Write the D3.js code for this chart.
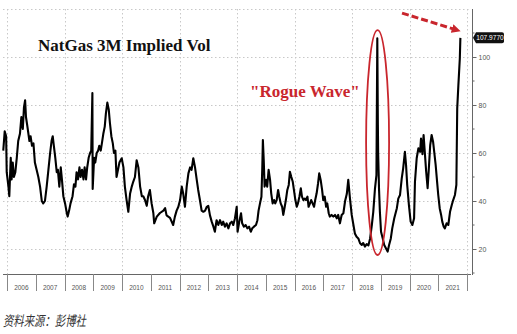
<!DOCTYPE html>
<html><head><meta charset="utf-8">
<script src="https://cdn.jsdelivr.net/npm/d3@7"></script>
<style>html,body{margin:0;padding:0;background:#fff;}svg{display:block;}</style>
</head><body>
<svg id="chart" width="517" height="334"></svg>
<script>
const years = [2005.87,2005.92,2005.97,2005.99,2006.05,2006.08,2006.13,2006.16,2006.20,2006.24,2006.29,2006.34,2006.39,2006.45,2006.50,2006.55,2006.59,2006.63,2006.66,2006.71,2006.78,2006.82,2006.87,2006.92,2006.97,2007.03,2007.09,2007.15,2007.21,2007.26,2007.32,2007.38,2007.44,2007.50,2007.55,2007.59,2007.63,2007.68,2007.73,2007.77,2007.82,2007.87,2007.91,2007.96,2008.02,2008.08,2008.11,2008.16,2008.21,2008.28,2008.33,2008.38,2008.42,2008.47,2008.52,2008.56,2008.61,2008.66,2008.70,2008.75,2008.79,2008.84,2008.89,2008.93,2008.97,2008.98,
2009.03,2009.07,2009.12,2009.17,2009.21,2009.26,2009.30,2009.35,2009.40,2009.44,2009.49,2009.54,2009.58,2009.63,2009.68,2009.72,2009.77,2009.81,2009.86,2009.91,2009.99,2010.05,2010.10,2010.16,2010.22,2010.28,2010.34,2010.39,2010.45,2010.51,2010.57,2010.63,2010.69,2010.74,2010.80,2010.86,2010.91,2010.97,2011.03,2011.09,2011.12,2011.21,2011.32,2011.44,2011.50,2011.55,2011.67,2011.78,2011.84,2011.90,2011.96,
2012.02,2012.08,2012.13,2012.19,2012.25,2012.31,2012.37,2012.42,2012.48,2012.54,2012.60,2012.65,2012.71,2012.77,2012.83,2012.89,2012.95,2013.00,2013.06,2013.12,2013.18,2013.23,2013.29,2013.35,2013.41,2013.47,2013.52,2013.58,2013.64,2013.70,2013.76,2013.82,2013.87,2013.93,2013.99,2014.02,2014.08,2014.14,2014.18,2014.24,2014.30,2014.36,2014.42,2014.48,2014.53,2014.59,2014.66,2014.71,2014.75,2014.80,2014.85,2014.88,2014.90,2014.93,2014.96,
2015.01,2015.05,2015.10,2015.15,2015.19,2015.24,2015.29,2015.33,2015.38,2015.43,2015.47,2015.52,2015.57,2015.61,2015.66,2015.70,2015.75,2015.80,2015.84,2015.89,2015.94,2015.98,2016.03,2016.08,2016.12,2016.17,2016.22,2016.26,2016.31,2016.36,2016.40,2016.45,2016.49,2016.54,2016.58,2016.63,2016.68,2016.72,2016.77,2016.82,2016.86,2016.91,2016.96,2017.00,2017.05,2017.10,2017.14,2017.19,2017.23,2017.29,2017.35,2017.41,2017.47,2017.52,2017.58,2017.64,2017.70,2017.76,2017.82,2017.87,2017.93,2017.99,
2018.05,2018.10,2018.16,2018.22,2018.28,2018.34,2018.39,2018.45,2018.51,2018.57,2018.63,2018.69,2018.74,2018.80,2018.85,2018.88,2018.90,2018.91,2018.94,2018.97,2019.01,2019.07,2019.12,2019.18,2019.24,2019.29,2019.35,2019.40,2019.47,2019.56,2019.61,2019.67,2019.73,2019.78,2019.84,2019.88,2019.92,2019.98,
2020.04,2020.10,2020.16,2020.19,2020.25,2020.31,2020.37,2020.40,2020.45,2020.49,2020.54,2020.58,2020.63,2020.68,2020.72,2020.77,2020.82,2020.86,2020.91,2020.96,2021.00,2021.05,2021.10,2021.14,2021.19,2021.23,2021.29,2021.35,2021.41,2021.47,2021.52,2021.58,2021.63,2021.66,2021.70,2021.75,2021.77];

const vols = [61,69,67,52,46,42,58,49,56,50,52,58,65,68,75,70,79,82,75,71,65,67,63,64,56,53,50,46,40,39,40,46,53,60,65,67,63,58,52,53,46,54,49,42,39,35,33.5,36,39,42,47,46,52,49,54,50,53,49,54,49,54,58,60,61,85,45,
58,56,60,61,63,61,64,68,71,76.5,81,78,72.5,67,64,60,61,50,53,56,57.8,54,46,40.4,35.5,43,46,48,50,57,54,46,42,42,40.4,38,42,44.6,39,35,30.7,33.5,35,36,37,34,33,30,33.5,36,37.6,
40.4,46,43,37.6,46,51.5,54,53,57.8,54,48.8,44.6,40.4,36,35.5,36,37.6,38,34,31.4,29.3,27.2,32,30,32,30,31.4,29.3,30.7,28.6,30.7,31.4,30,32.8,37.6,27.2,31.4,34.9,30.7,29.3,30,28.6,29.3,27.2,28.6,29.3,30,32,36,39,41.8,54,65.4,57,46,
48.8,46,53,48.8,43.2,39,40.4,39,40.4,44.6,41.8,39,37.6,34.2,37.6,40.4,44.6,46.7,52.2,50,48,44.6,40.4,37.6,39,41.8,45.3,41.8,40.4,41,40.4,41.8,37.6,39,40.4,39,37.6,40.4,43.2,47.4,51.5,48.8,44.6,40.4,41.8,37.6,39,34.9,33.5,34.2,33.5,34.2,32.8,34.2,30.7,34.2,34.9,40,43,48.8,41,34.2,
30,26.5,25.1,24.4,22.4,21.7,22.5,21,22,21.5,24.4,30,35.5,45.3,50.8,107.8,71.7,60,45,35.5,27.2,24.4,21.7,20.3,18.9,21.7,24.4,28.6,32.8,37,41,42.5,49.4,53.6,60.5,55,46.7,38.3,
31.4,30,32.8,48,57.8,62,60.5,66,59.5,67.5,59,52.2,45.3,55,63.3,67.5,64.7,60.5,55,48,42.5,37,34.2,31.4,29.3,28.6,30.7,30,35.5,38.3,40.4,42.5,46.7,78.6,88.3,99.4,107.977];

const yearLabels = [2006,2007,2008,2009,2010,2011,2012,2013,2014,2015,2016,2017,2018,2019,2020,2021];
const gridYears = [2006,2008,2010,2012,2014,2016,2018,2020,2022];
const yMajorTicks = [20,40,60,80,100];
const yMinorTicks = [10,30,50,70,90,110];
const yGrid = [20,40,60,80,100,120];
const titleText = "NatGas 3M Implied Vol";
const annotationText = "\"Rogue Wave\"";
const lastValueLabel = "107.9770";
const sourceText = "资料来源：彭博社";
const rogueWave = {start: 2018.49, end: 2019.29, low: 17.5, high: 111.2};
const arrowFrom = {year: 2019.74, vol: 118.3};
const arrowTo = {year: 2021.66, vol: 111.2};

const svg = d3.select("#chart");
const x = d3.scaleLinear().domain([2006, 2022]).range([7, 467]);
const y = d3.scaleLinear().domain([10, 120]).range([273, 9]);
const plotLeft = 3, plotRight = 472, plotTop = 9, plotBottom = 274;
const red = "#c9262d";

// grid
svg.append("g").selectAll("line").data(yGrid).join("line")
  .attr("x1", plotLeft).attr("x2", plotRight - 2)
  .attr("y1", d => Math.round(y(d)) + 0.5).attr("y2", d => Math.round(y(d)) + 0.5)
  .attr("stroke", "#c8c8c8").attr("stroke-width", 1).attr("stroke-dasharray", "1.5,2.5");
svg.append("g").selectAll("line").data(gridYears).join("line")
  .attr("x1", d => Math.round(x(d)) + 0.5).attr("x2", d => Math.round(x(d)) + 0.5)
  .attr("y1", plotTop).attr("y2", plotBottom)
  .attr("stroke", "#c8c8c8").attr("stroke-width", 1).attr("stroke-dasharray", "1.5,2.5");

// bottom axis
svg.append("line").attr("x1", plotLeft).attr("x2", plotRight - 1)
  .attr("y1", plotBottom + 0.5).attr("y2", plotBottom + 0.5).attr("stroke", "#666");
svg.append("g").selectAll("line").data(yearLabels.concat([2022])).join("line")
  .attr("x1", d => Math.round(x(d)) + 0.5).attr("x2", d => Math.round(x(d)) + 0.5)
  .attr("y1", plotBottom).attr("y2", plotBottom + 17)
  .attr("stroke", "#888");
svg.append("g").selectAll("text").data(yearLabels).join("text")
  .attr("x", d => x(d + 0.5)).attr("y", 290)
  .attr("text-anchor", "middle")
  .attr("font-family", "Liberation Sans, Arial, sans-serif")
  .attr("font-size", 6.5).attr("fill", "#555")
  .text(d => d);

// right axis
const yAxis = d3.axisRight(y).tickValues(yMajorTicks).tickSize(4).tickPadding(2).tickFormat(d3.format("d"));
const ga = svg.append("g").attr("transform", `translate(${plotRight + 0.5},0)`).call(yAxis);
ga.select(".domain").attr("stroke", "#666").attr("d", `M0,${plotTop}V${plotBottom + 1}`);
ga.selectAll(".tick line").attr("stroke", "#666");
ga.selectAll(".tick text").attr("font-family", "Liberation Sans, Arial, sans-serif")
  .attr("font-size", 7).attr("fill", "#555");
svg.append("g").selectAll("line").data(yMinorTicks).join("line")
  .attr("x1", plotRight).attr("x2", plotRight + 2.5)
  .attr("y1", d => y(d)).attr("y2", d => y(d)).attr("stroke", "#666");

// line
const line = d3.line().x((d, i) => x(years[i])).y(d => y(d)).curve(d3.curveLinear);
svg.append("path").datum(vols).attr("d", line)
  .attr("fill", "none").attr("stroke", "#000").attr("stroke-width", 2.1)
  .attr("stroke-linejoin", "round");

// title
svg.append("text").attr("x", 38).attr("y", 51)
  .attr("font-family", "Liberation Serif, Times New Roman, serif")
  .attr("font-weight", "bold").attr("font-size", 17).attr("fill", "#111")
  .text(titleText);

// rogue wave annotation
svg.append("text").attr("x", 250).attr("y", 97)
  .attr("font-family", "Liberation Serif, Times New Roman, serif")
  .attr("font-weight", "bold").attr("font-size", 17).attr("fill", red)
  .text(annotationText);
const ex0 = x(rogueWave.start), ex1 = x(rogueWave.end), ey0 = y(rogueWave.high), ey1 = y(rogueWave.low);
svg.append("ellipse")
  .attr("cx", (ex0 + ex1) / 2).attr("cy", (ey0 + ey1) / 2)
  .attr("rx", (ex1 - ex0) / 2).attr("ry", (ey1 - ey0) / 2)
  .attr("fill", "none").attr("stroke", red).attr("stroke-width", 1.8);

// dashed arrow
const defs = svg.append("defs");
defs.append("marker").attr("id", "ah").attr("viewBox", "0 0 10 10")
  .attr("refX", 6).attr("refY", 5).attr("markerWidth", 3).attr("markerHeight", 3)
  .attr("orient", "auto").attr("markerUnits", "strokeWidth")
  .append("path").attr("d", "M0,0L10,5L0,10Z").attr("fill", red);
svg.append("line")
  .attr("x1", x(arrowFrom.year)).attr("y1", y(arrowFrom.vol))
  .attr("x2", x(arrowTo.year)).attr("y2", y(arrowTo.vol))
  .attr("stroke", red).attr("stroke-width", 3).attr("stroke-dasharray", "7,3")
  .attr("marker-end", "url(#ah)");

// last value label
const lv = vols[vols.length - 1];
const ly = y(lv);
const lg = svg.append("g").attr("transform", `translate(${plotRight + 1},${ly})`);
lg.append("path").attr("d", "M0,0L3,-5.5H29Q31,-5.5 31,-3.5V3.5Q31,5.5 29,5.5H3Z").attr("fill", "#111");
lg.append("text").attr("x", 17).attr("y", 2.4).attr("text-anchor", "middle")
  .attr("font-family", "Liberation Sans, Arial, sans-serif").attr("font-size", 6.6)
  .attr("fill", "#fff").text(lastValueLabel);

// source
svg.append("text").attr("x", 3).attr("y", 326)
  .attr("font-family", "Noto Sans CJK SC, sans-serif").attr("font-style", "italic")
  .attr("font-size", 14).attr("fill", "#333")
  .attr("textLength", 83).attr("lengthAdjust", "spacingAndGlyphs")
  .text(sourceText);
</script>
</body></html>
